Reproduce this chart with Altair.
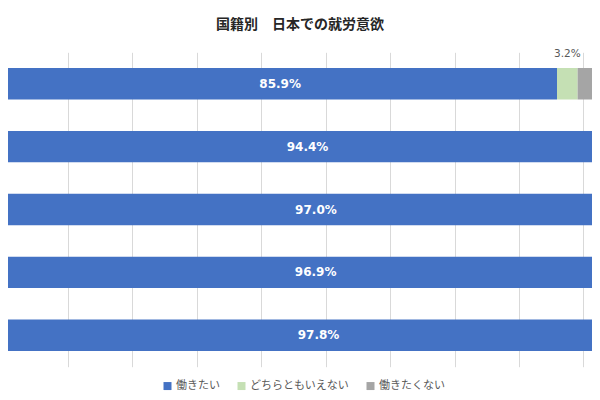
import altair as alt
import pandas as pd

countries = ["ベトナム", "中国", "フィリピン", "インドネシア", "ネパール"]
answers = ["働きたい", "どちらともいえない", "働きたくない"]
want = [85.9, 94.4, 97.0, 96.9, 97.8]
neutral = [3.2, 2.8, 1.5, 1.6, 1.1]
not_want = [10.9, 2.8, 1.5, 1.5, 1.1]
colors = ["#4472C4", "#C5E0B4", "#A5A5A5"]
grid_values = [0, 10, 20, 30, 40, 50, 60, 70, 80, 90, 100]

rows = []
for i, c in enumerate(countries):
    for j, vals in enumerate([want, neutral, not_want]):
        rows.append({"country": c, "answer": answers[j], "order": j, "value": vals[i]})
df = pd.DataFrame(rows)

xscale = alt.Scale(domain=[0, 100], range=[-4.7, 639.9], nice=False, zero=False)
yenc = alt.Y("country:N", sort=countries, axis=None,
             scale=alt.Scale(paddingInner=0.5, paddingOuter=0.25))

base = alt.Chart(df).transform_stack(
    stack="value", groupby=["country"], as_=["v0", "v1"],
    sort=[alt.SortField("order", order="ascending")]
).transform_calculate(
    mid="(datum.v0 + datum.v1) / 2",
    label="format(datum.value, '.1f') + '%'"
)

bars = base.mark_bar(clip=True).encode(
    x=alt.X("v0:Q", scale=xscale, title=None,
            axis=alt.Axis(values=grid_values, grid=True, labels=False, ticks=False,
                          domain=False, gridColor="#D9D9D9", gridWidth=1)),
    x2="v1:Q",
    y=yenc,
    color=alt.Color("answer:N", sort=answers,
                    scale=alt.Scale(domain=answers, range=colors),
                    legend=alt.Legend(title=None, orient="none", direction="horizontal",
                                      legendX=154, legendY=328, padding=0,
                                      symbolType="square", symbolSize=64,
                                      symbolStrokeWidth=0, labelFontSize=11,
                                      labelFont="Noto Sans CJK JP", labelColor="#595959",
                                      labelOffset=3, columnPadding=16)),
    order=alt.Order("order:Q"),
)

lab_want = base.transform_filter("datum.order == 0").mark_text(
    clip=True, color="white", fontWeight="bold", fontSize=12, font="DejaVu Sans"
).encode(x=alt.X("mid:Q", scale=xscale), y=yenc, text="label:N")

lab_neutral = base.transform_filter("datum.order == 1 && datum.v0 < 92").mark_text(
    color="#595959", fontSize=10.5, font="DejaVu Sans", yOffset=-30
).encode(x=alt.X("mid:Q", scale=xscale), y=yenc, text="label:N")

lab_not = base.transform_filter("datum.order == 2 && datum.v0 < 92").mark_text(
    clip=True, color="#404040", fontSize=10.5, font="DejaVu Sans"
).encode(x=alt.X("mid:Q", scale=xscale), y=yenc, text="label:N")

chart = alt.layer(bars, lab_want, lab_neutral, lab_not).properties(
    width=584, height=314.4,
    autosize=alt.AutoSizeParams(type="none"),
    padding={"top": 44.3, "left": 0, "right": 0, "bottom": 25.3},
    title=alt.Title("国籍別　日本での就労意欲", fontSize=14, fontWeight="bold",
                    font="Noto Sans CJK JP", color="#262626", anchor="middle",
                    offset=16.5, dx=0),
).configure_view(stroke=None)

chart.save("out.html", embed_options={"renderer": "svg", "actions": False})
